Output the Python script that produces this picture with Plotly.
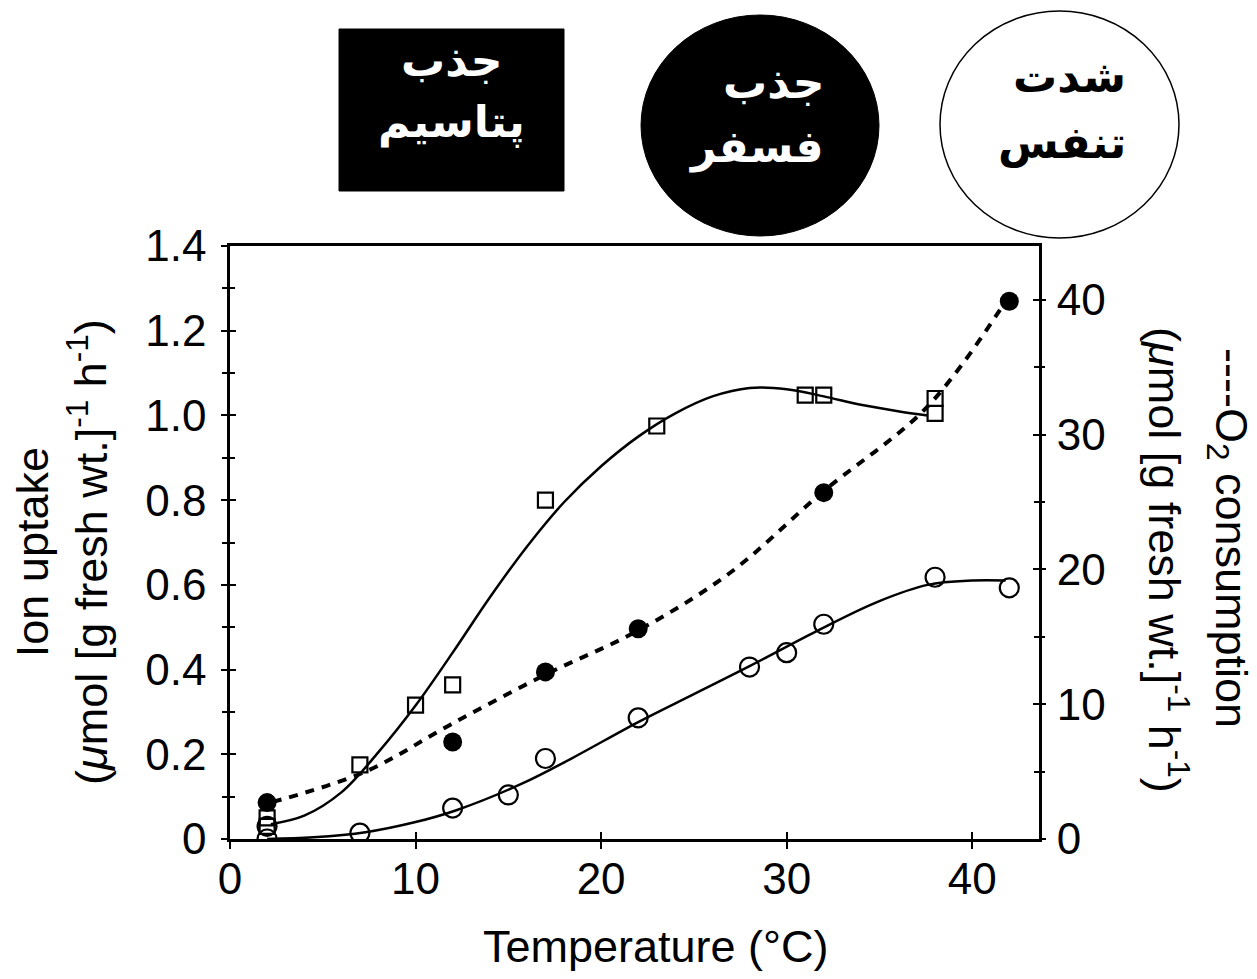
import plotly.graph_objects as go

# ---------------- data ----------------
# Potassium uptake (open squares), left axis
k_temp = [2, 2, 7, 10, 12, 17, 23, 31, 32, 38, 38]
k_uptake = [0.05, 0.03, 0.175, 0.316, 0.364, 0.80, 0.975, 1.048, 1.048, 1.04, 1.005]
k_curve_temp = [2.2, 4, 6, 8, 10, 12, 14, 16, 18, 20, 22, 24, 26, 28, 30, 32, 34, 36, 37.6]
k_curve_val = [0.035, 0.055, 0.11, 0.205, 0.315, 0.44, 0.57, 0.69, 0.795, 0.88, 0.95, 1.005, 1.045, 1.065, 1.062, 1.045, 1.025, 1.01, 1.0]

# Phosphate uptake (open circles), left axis
p_temp = [2, 2, 7, 12, 15, 17, 22, 28, 30, 32, 38, 42]
p_uptake = [0.0, 0.03, 0.014, 0.073, 0.104, 0.19, 0.286, 0.406, 0.44, 0.507, 0.618, 0.593]
p_curve_temp = [2, 4.5, 7.3, 10, 12.2, 15.7, 18.4, 22, 25, 28, 31.8, 34.9, 37.6, 40, 41.8]
p_curve_val = [0.0, 0.004, 0.016, 0.04, 0.068, 0.13, 0.19, 0.276, 0.342, 0.408, 0.495, 0.56, 0.60, 0.61, 0.61]

# O2 consumption (filled circles, dashed), right axis
o2_temp = [2, 12, 17, 22, 32, 42]
o2_cons = [2.7, 7.2, 12.4, 15.6, 25.7, 39.9]
o2_curve_temp = [2.3, 7.3, 11.9, 17.0, 21.9, 26.9, 31.9, 37.6, 41.8]
o2_curve_val = [2.75, 5.0, 8.5, 12.2, 15.4, 19.7, 25.7, 32.1, 39.9]

x_ticks = [0, 10, 20, 30, 40]
left_ticks = [0, 0.2, 0.4, 0.6, 0.8, 1.0, 1.2, 1.4]
left_tick_text = ["0", "0.2", "0.4", "0.6", "0.8", "1.0", "1.2", "1.4"]
right_ticks = [0, 10, 20, 30, 40]
right_tick_text = ["0", "10", "20", "30", "40"]

label_potassium = ["جذب", "پتاسیم"]
label_phosphorus = ["جذب", "فسفر"]
label_respiration = ["شدت", "تنفس"]

# ---------------- figure ----------------
TXT_FONT = "Liberation Sans, Arial, sans-serif"
FA_FONT = "DejaVu Sans, Noto Sans, sans-serif"

fig = go.Figure()

# fitted curves
fig.add_trace(go.Scatter(x=k_curve_temp, y=k_curve_val, mode="lines",
                         line=dict(color="black", width=2.5, shape="spline", smoothing=1.0),
                         showlegend=False, hoverinfo="skip"))
fig.add_trace(go.Scatter(x=p_curve_temp, y=p_curve_val, mode="lines",
                         line=dict(color="black", width=2.5, shape="spline", smoothing=1.0),
                         showlegend=False, hoverinfo="skip"))
fig.add_trace(go.Scatter(x=o2_curve_temp, y=o2_curve_val, mode="lines", yaxis="y2",
                         line=dict(color="black", width=4, dash="9px,8px", shape="spline", smoothing=1.0),
                         showlegend=False, hoverinfo="skip"))

# data points
fig.add_trace(go.Scatter(x=k_temp, y=k_uptake, mode="markers", name="K uptake",
                         marker=dict(symbol="square-open", size=15, color="black",
                                     line=dict(color="black", width=2.2)),
                         showlegend=False))
fig.add_trace(go.Scatter(x=p_temp, y=p_uptake, mode="markers", name="P uptake",
                         marker=dict(symbol="circle-open", size=19, color="black",
                                     line=dict(color="black", width=2.2)),
                         showlegend=False))
fig.add_trace(go.Scatter(x=o2_temp, y=o2_cons, mode="markers", name="O2 consumption", yaxis="y2",
                         marker=dict(symbol="circle", size=19, color="black"),
                         showlegend=False))

# dummy traces to activate the inner-tick overlay axes
fig.add_trace(go.Scatter(x=[None], y=[None], xaxis="x2", yaxis="y3", showlegend=False, hoverinfo="skip"))
fig.add_trace(go.Scatter(x=[None], y=[None], xaxis="x", yaxis="y4", showlegend=False, hoverinfo="skip"))

XR = [0, 43.6]
YR = [0, 1.4]
Y2R = [0, 44.0]

tickfont = dict(family=TXT_FONT, size=44, color="black")

fig.update_layout(
    width=1257, height=979, autosize=False,
    margin=dict(l=222, r=226, t=238, b=148),
    paper_bgcolor="white", plot_bgcolor="white",
    xaxis=dict(range=XR, tickvals=x_ticks, ticks="outside", ticklen=7, tickwidth=2,
               tickcolor="black", showline=True, linecolor="black", linewidth=2.5,
               mirror=True, showgrid=False, zeroline=False, tickfont=tickfont,
               ticklabelstandoff=-8),
    xaxis2=dict(range=XR, overlaying="x", anchor="y", side="bottom", tickvals=x_ticks,
                ticks="inside", ticklen=7, tickwidth=2, tickcolor="black",
                showticklabels=False, showline=False, showgrid=False, zeroline=False),
    yaxis=dict(range=YR, tickvals=left_ticks, ticktext=left_tick_text, ticks="outside",
               ticklen=6, tickwidth=2, tickcolor="black",
               minor=dict(dtick=0.1, tick0=0, ticks="outside", ticklen=5, tickwidth=2, tickcolor="black"),
               showline=True, linecolor="black", linewidth=2.5, mirror=True,
               showgrid=False, zeroline=False, tickfont=tickfont, ticklabelstandoff=6),
    yaxis3=dict(range=YR, overlaying="y", anchor="x", side="left", tickvals=left_ticks,
                ticks="inside", ticklen=6, tickwidth=2, tickcolor="black",
                minor=dict(dtick=0.1, tick0=0, ticks="inside", ticklen=5, tickwidth=2, tickcolor="black"),
                showticklabels=False, showline=False, showgrid=False, zeroline=False),
    yaxis2=dict(range=Y2R, overlaying="y", anchor="x", side="right", tickvals=right_ticks,
                ticktext=right_tick_text, ticks="outside", ticklen=6, tickwidth=2, tickcolor="black",
                minor=dict(dtick=5, tick0=0, ticks="outside", ticklen=5, tickwidth=2, tickcolor="black"),
                showline=False, showgrid=False, zeroline=False, tickfont=tickfont,
                ticklabelstandoff=2),
    yaxis4=dict(range=Y2R, overlaying="y", anchor="x", side="right", tickvals=right_ticks,
                ticks="inside", ticklen=6, tickwidth=2, tickcolor="black",
                minor=dict(dtick=5, tick0=0, ticks="inside", ticklen=5, tickwidth=2, tickcolor="black"),
                showticklabels=False, showline=False, showgrid=False, zeroline=False),
)

# px -> paper helpers (plot area: x 222..1031, y 238..831)
def px(xp):
    return (xp - 222) / 809.0

def py(yp):
    return (831 - yp) / 593.0

# axis titles
fig.add_annotation(text="Temperature (°C)", xref="paper", yref="paper", x=px(648), y=py(938),
                   xanchor="center", yanchor="middle", showarrow=False,
                   font=dict(family=TXT_FONT, size=45, color="black"))
fig.add_annotation(text="Ion uptake<br>(<i>μ</i>mol [g fresh wt.]<sup>-1</sup> h<sup>-1</sup>)",
                   xref="paper", yref="paper", x=px(54), y=py(544), xanchor="center", yanchor="middle",
                   textangle=-90, showarrow=False,
                   font=dict(family=TXT_FONT, size=45, color="black"))
fig.add_annotation(text="----O<sub>2</sub> consumption",
                   xref="paper", yref="paper", x=px(1221), y=py(530), xanchor="center", yanchor="middle",
                   textangle=90, showarrow=False,
                   font=dict(family=TXT_FONT, size=45, color="black"))
fig.add_annotation(text="(<i>μ</i>mol [g fresh wt.]<sup>-1</sup> h<sup>-1</sup>)",
                   xref="paper", yref="paper", x=px(1160), y=py(552), xanchor="center", yanchor="middle",
                   textangle=90, showarrow=False,
                   font=dict(family=TXT_FONT, size=45, color="black"))

# top legend-like shapes
fig.add_shape(type="rect", xref="paper", yref="paper", x0=px(331), x1=px(556), y0=py(183), y1=py(21),
              fillcolor="black", line=dict(color="black", width=1))
fig.add_shape(type="circle", xref="paper", yref="paper", x0=px(633), x1=px(871), y0=py(228), y1=py(7),
              fillcolor="black", line=dict(color="black", width=1))
fig.add_shape(type="circle", xref="paper", yref="paper", x0=px(932), x1=px(1171), y0=py(230), y1=py(3),
              fillcolor="white", line=dict(color="black", width=1.5))

fa_font_white = dict(family=FA_FONT, size=44, color="white")
fa_font_black = dict(family=FA_FONT, size=44, color="black")

fig.add_annotation(text="<b>%s</b>" % label_potassium[0], xref="paper", yref="paper",
                   x=px(443), y=py(53), xanchor="center", yanchor="middle", showarrow=False, font=fa_font_white)
fig.add_annotation(text="<b>%s</b>" % label_potassium[1], xref="paper", yref="paper",
                   x=px(443), y=py(114), xanchor="center", yanchor="middle", showarrow=False, font=fa_font_white)
fig.add_annotation(text="<b>%s</b>" % label_phosphorus[0], xref="paper", yref="paper",
                   x=px(818), y=py(75), xanchor="right", yanchor="middle", showarrow=False, font=fa_font_white)
fig.add_annotation(text="<b>%s</b>" % label_phosphorus[1], xref="paper", yref="paper",
                   x=px(818), y=py(139), xanchor="right", yanchor="middle", showarrow=False, font=fa_font_white)
fig.add_annotation(text="<b>%s</b>" % label_respiration[0], xref="paper", yref="paper",
                   x=px(1120), y=py(69), xanchor="right", yanchor="middle", showarrow=False, font=fa_font_black)
fig.add_annotation(text="<b>%s</b>" % label_respiration[1], xref="paper", yref="paper",
                   x=px(1120), y=py(135), xanchor="right", yanchor="middle", showarrow=False, font=fa_font_black)

fig.write_html("out.html")
